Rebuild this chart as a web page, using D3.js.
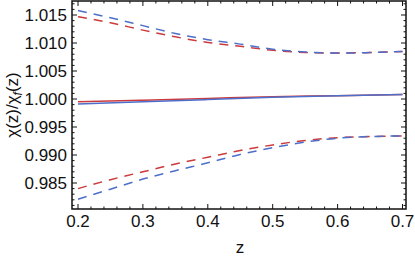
<!DOCTYPE html>
<html>
<head>
<meta charset="utf-8">
<script src="https://cdn.jsdelivr.net/npm/d3@7"></script>
<style>
  body { margin: 0; background: #fff; }
  text { font-family: "Liberation Sans", Arial, sans-serif; fill: #111; }
</style>
</head>
<body>
<svg width="415" height="257"></svg>
<script>
// z grid for the dashed curves
var zDash = [0.20, 0.25, 0.30, 0.35, 0.40, 0.45, 0.50, 0.55, 0.60, 0.65, 0.70];
var upperBlue = [1.0158, 1.0145, 1.0131, 1.0117, 1.0106, 1.0098, 1.0089, 1.0084, 1.0082, 1.0083, 1.0085];
var upperRed  = [1.0147, 1.0136, 1.0123, 1.0111, 1.0101, 1.0094, 1.0087, 1.0083, 1.0082, 1.0083, 1.0085];
var lowerRed  = [0.9840, 0.9856, 0.9870, 0.9884, 0.9896, 0.9908, 0.9918, 0.9926, 0.9931, 0.9933, 0.9934];
var lowerBlue = [0.9821, 0.9839, 0.9857, 0.9872, 0.9886, 0.9901, 0.9913, 0.9923, 0.9930, 0.9933, 0.9934];

// z grid for the solid curves
var zSolid = [0.2, 0.3, 0.4, 0.5, 0.6, 0.7];
var solidRed  = [0.9995, 0.9998, 1.0001, 1.0004, 1.0006, 1.0008];
var solidBlue = [0.9991, 0.9995, 0.9999, 1.0003, 1.0006, 1.0008];

var xTicks = [0.2, 0.3, 0.4, 0.5, 0.6, 0.7];
var yTicks = [0.985, 0.990, 0.995, 1.000, 1.005, 1.010, 1.015];

var red = "#cc3a3c", blue = "#4d6fcb";

var svg = d3.select("svg");
var pLeft = 72, pRight = 406, pTop = 1, pBottom = 209;

var x = d3.scaleLinear().domain([0.19075, 0.7054]).range([pLeft, pRight]);
var y = d3.scaleLinear().domain([0.98036, 1.0175]).range([pBottom, pTop]);

var line = d3.line()
    .x(function(d){ return x(d[0]); })
    .y(function(d){ return y(d[1]); })
    .curve(d3.curveMonotoneX);

function pts(zs, vs){ return zs.map(function(z, i){ return [z, vs[i]]; }); }

var series = [
  {z: zSolid, v: solidRed,  color: red,  dash: null},
  {z: zSolid, v: solidBlue, color: blue, dash: null},
  {z: zDash, v: upperRed,  color: red,  dash: "9,7"},
  {z: zDash, v: upperBlue, color: blue, dash: "9,7"},
  {z: zDash, v: lowerRed,  color: red,  dash: "9,7"},
  {z: zDash, v: lowerBlue, color: blue, dash: "9,7"}
];

svg.append("g").selectAll("path").data(series).enter()
  .append("path")
  .attr("d", function(d){ return line(pts(d.z, d.v)); })
  .attr("fill", "none")
  .attr("stroke", function(d){ return d.color; })
  .attr("stroke-width", 1.5)
  .attr("stroke-dasharray", function(d){ return d.dash; });

// frame ticks (inward), major + minor
var frame = svg.append("g").attr("stroke", "#111");
var xMinor = d3.range(0.2, 0.7001, 0.02);
var yMinor = d3.range(0.981, 1.0171, 0.001);

xMinor.forEach(function(t){
  var major = xTicks.some(function(m){ return Math.abs(m - t) < 1e-6; });
  var len = major ? 5 : 2.5;
  frame.append("line").attr("x1", x(t)).attr("x2", x(t)).attr("y1", pBottom).attr("y2", pBottom - len);
  frame.append("line").attr("x1", x(t)).attr("x2", x(t)).attr("y1", pTop).attr("y2", pTop + len);
});
yMinor.forEach(function(t){
  var major = yTicks.some(function(m){ return Math.abs(m - t) < 1e-6; });
  var len = major ? 5 : 2.5;
  frame.append("line").attr("y1", y(t)).attr("y2", y(t)).attr("x1", pLeft).attr("x2", pLeft + len);
  frame.append("line").attr("y1", y(t)).attr("y2", y(t)).attr("x1", pRight).attr("x2", pRight - len);
});

frame.append("rect")
  .attr("x", pLeft).attr("y", pTop)
  .attr("width", pRight - pLeft).attr("height", pBottom - pTop)
  .attr("fill", "none").attr("stroke-width", 1.5);

// tick labels
svg.append("g").selectAll("text").data(xTicks).enter()
  .append("text")
  .attr("x", function(d){ return x(d); })
  .attr("y", 227)
  .attr("text-anchor", "middle")
  .attr("font-size", 17)
  .text(function(d){ return d3.format(".1f")(d); });

svg.append("g").selectAll("text").data(yTicks).enter()
  .append("text")
  .attr("x", pLeft - 5)
  .attr("y", function(d){ return y(d) + 6; })
  .attr("text-anchor", "end")
  .attr("font-size", 17)
  .text(function(d){ return d3.format(".3f")(d); });

// axis labels
svg.append("text")
  .attr("x", 240).attr("y", 253)
  .attr("text-anchor", "middle")
  .attr("font-size", 17)
  .text("z");

var yl = svg.append("text")
  .attr("transform", "translate(18," + ((pTop + pBottom) / 2) + ") rotate(-90)")
  .attr("text-anchor", "middle")
  .attr("font-size", 17);
yl.append("tspan").text("χ(z)/χ");
yl.append("tspan").attr("font-size", 12).attr("font-style", "italic").attr("dy", 4).text("f");
yl.append("tspan").attr("dy", -4).text("(z)");
</script>
</body>
</html>
